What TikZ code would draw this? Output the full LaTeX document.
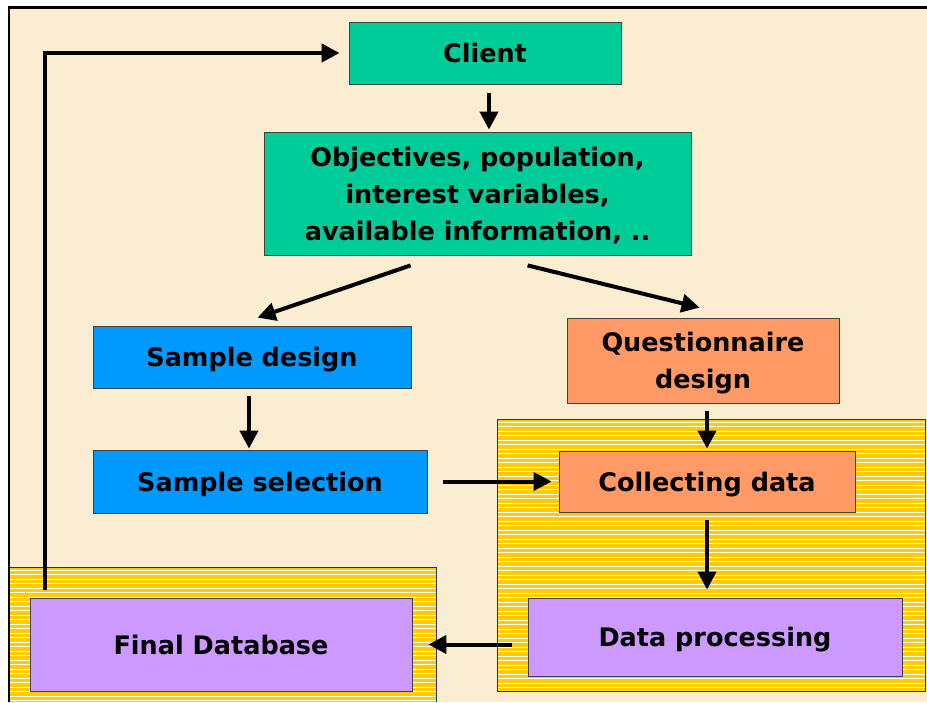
\documentclass[tikz,border=0pt]{standalone}
\usepackage{fontspec}
\setmainfont{DejaVu Sans}
\usetikzlibrary{arrows.meta,calc}
\definecolor{bg}{HTML}{FBEDD2}
\definecolor{grn}{HTML}{00CC99}
\definecolor{blu}{HTML}{0099FF}
\definecolor{org}{HTML}{FF9966}
\definecolor{pur}{HTML}{CC99FF}
\definecolor{ylw}{HTML}{FFCC00}
\begin{document}
\begin{tikzpicture}[x=1pt,y=-1pt,
  box/.style={draw=black!75, line width=0.8pt, inner sep=0pt, text depth=0pt, font=\bfseries\fontsize{25.5}{37}\selectfont, align=center},
  arr/.style={line width=4pt, -{Triangle[length=18pt,width=18pt]}},
  stripe/.style={white, line width=0.5pt}]
% page
\useasboundingbox (0,0) rectangle (927,702);
\fill[white] (0,0) rectangle (927,702);
\fill[bg] (9,7) rectangle (927,702);
% yellow striped regions
\fill[ylw] (497,419) rectangle (925,691);
\foreach \yy in {422,426.5,...,690} \draw[stripe] (497,\yy) -- (925,\yy);
\draw[black!80, line width=0.8pt] (497,419) rectangle (925,691);
\fill[ylw] (9,567) rectangle (436,702);
\foreach \yy in {570,574.5,...,702} \draw[stripe] (9,\yy) -- (436,\yy);
\draw[black!80, line width=0.8pt] (9,702) -- (9,567) -- (436,567) -- (436,702);
% border
\draw[black, line width=2.5pt] (927,7.5) -- (9,7.5) -- (9,702);
% boxes
\node[box, fill=grn, minimum width=272pt, minimum height=62pt] (client) at (485,53) {Client};
\node[box, fill=grn, minimum width=427pt, minimum height=123pt] (obj) at (477.5,193.5)
  {Objectives, population,\\ interest variables,\\ available information, ..};
\node[box, fill=blu, minimum width=318pt, minimum height=62pt] (sd) at (252,357) {Sample design};
\node[box, fill=org, minimum width=272pt, minimum height=85pt] (qd) at (703,360.5) {Questionnaire\\ design};
\node[box, fill=blu, minimum width=334pt, minimum height=63pt] (ss) at (260,481.5) {Sample selection};
\node[box, fill=org, minimum width=296pt, minimum height=61pt] (cd) at (707,481.5) {Collecting data};
\node[box, fill=pur, minimum width=374pt, minimum height=78pt] (dp) at (715,637) {Data processing};
\node[box, fill=pur, minimum width=382pt, minimum height=93pt] (fdb) at (221,644.5) {Final Database};
% connectors
\draw[arr, shorten <=9pt, shorten >=2pt] ([xshift=4pt]client.south) -- ([xshift=4pt]client.south |- obj.north);
\draw[arr] ([shift={(147,10)}]obj.south west) -- ([shift={(165,-8)}]sd.north west);
\draw[arr] ([shift={(264,10)}]obj.south west) -- ([shift={(133,-10)}]qd.north west);
\draw[arr, shorten <=8pt, shorten >=1pt] ([xshift=-3pt]sd.south) -- ([xshift=-3pt]sd.south |- ss.north);
\draw[arr, shorten <=16pt, shorten >=7pt] (ss.east) -- (ss.east -| cd.west);
\draw[arr, shorten <=8pt, shorten >=2pt] (cd.north |- qd.south) -- (cd.north);
\draw[arr, shorten <=8pt, shorten >=8pt] (cd.south) -- (cd.south |- dp.north);
\draw[arr, shorten <=16pt, shorten >=16pt] (dp.west |- fdb.east) -- (fdb.east);
\coordinate (fbstart) at (45,590);
\draw[arr, shorten >=9pt] (fbstart) |- (client.west);
\end{tikzpicture}
\end{document}
